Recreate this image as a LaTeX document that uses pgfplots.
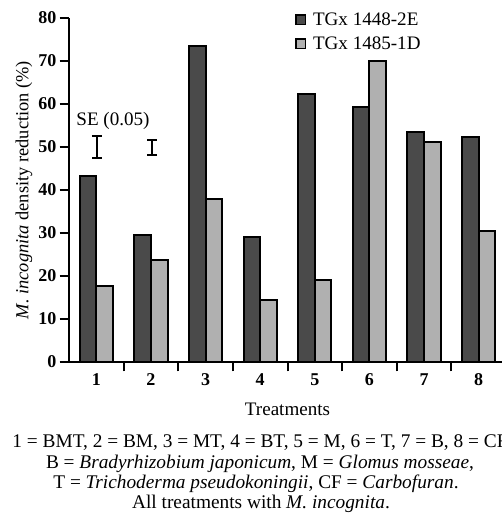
\documentclass[border=0pt]{standalone}
\usepackage{fontspec}
\setmainfont{Liberation Serif}
\usepackage{pgfplots}
\pgfplotsset{compat=1.18}
\definecolor{darkbar}{HTML}{4A4A4A}
\definecolor{lightbar}{HTML}{B0B0B0}
\begin{document}
\begin{tikzpicture}
\begin{axis}[
  at={(51.75pt,-271.5pt)}, anchor=south west,
  scale only axis, width=327.75pt, height=258pt,
  xmin=0.5, xmax=8.5, ymin=0, ymax=80,
  axis x line=bottom, axis y line=left,
  axis line style={-, line width=1.5pt},
  ytick={0,10,...,80},
  xtick={1.5,2.5,...,7.5}, xticklabels={,,,,,,},
  extra x ticks={1,...,8},
  extra x tick style={major tick length=0pt, xticklabel style={yshift=-5pt}},
  tick align=outside, major tick length=7pt,
  tick style={line width=1.5pt, black},
  /pgf/number format/assume math mode=true,
  tick label style={font=\fontsize{13.5}{13.5}\selectfont\bfseries},
  yticklabel style={xshift=1pt},
  ylabel={\textit{M. incognita} density reduction (\%)},
  ylabel style={font=\fontsize{13.8}{13.8}\selectfont, at={(axis description cs:-0.103,0.5)}, anchor=center},
  xlabel={Treatments},
  xlabel style={font=\fontsize{14.3}{14.3}\selectfont, at={(axis description cs:0.5,-0.137)}, anchor=center},
  legend style={at={(0.517,1.025)}, anchor=north west, draw=none, fill=none,
    font=\fontsize{14.3}{16}\selectfont, row sep=3pt, inner sep=0pt,
    /tikz/every odd column/.append style={column sep=3pt}},
  legend cell align=left,
  clip=false,
]
\addplot[ybar, bar width=12.5pt, bar shift=-6.25pt, fill=darkbar, draw=black, line width=1.5pt,
  legend image code/.code={\draw[fill=darkbar, draw=black, line width=1.2pt] (0pt,-3.6pt) rectangle (7.2pt,3.6pt);}]
  coordinates {(1,43.2) (2,29.6) (3,73.5) (4,29.0) (5,62.3) (6,59.4) (7,53.6) (8,52.4)};
\addlegendentry{TGx 1448-2E}
\addplot[ybar, bar width=12.5pt, bar shift=6.25pt, fill=lightbar, draw=black, line width=1.5pt,
  legend image code/.code={\draw[fill=lightbar, draw=black, line width=1.2pt] (0pt,-3.6pt) rectangle (7.2pt,3.6pt);}]
  coordinates {(1,17.7) (2,23.7) (3,37.8) (4,14.5) (5,19.1) (6,70.1) (7,51.2) (8,30.5)};
\addlegendentry{TGx 1485-1D}
\addplot[forget plot, sharp plot, draw=none, mark=none,
  error bars/.cd, y dir=both, y explicit,
  error bar style={line width=1.5pt, black},
  error mark options={rotate=90, mark size=3.75pt, line width=1.5pt, black}]
  coordinates {(1.01,50) +- (0,2.6) (2.02,49.9) +- (0,1.75)};
\node[font=\fontsize{14.3}{14.3}\selectfont] at (axis cs:1.306,56) {SE (0.05)};
\end{axis}
\begin{scope}[x=0.75pt, y=-0.75pt, font=\fontsize{14.5}{14.5}\selectfont]
\node[anchor=base] at (260,447) {1 = BMT, 2 = BM, 3 = MT, 4 = BT, 5 = M, 6 = T, 7 = B, 8 = CF};
\node[anchor=base] at (260,468) {B = \textit{Bradyrhizobium japonicum}, M = \textit{Glomus mosseae},};
\node[anchor=base] at (256,488) {T = \textit{Trichoderma pseudokoningii}, CF = \textit{Carbofuran}.};
\node[anchor=base] at (261,508) {All treatments with \textit{M. incognita}.};
\end{scope}
\pgfresetboundingbox
\path[use as bounding box] (0,0) rectangle (376.5pt,-385.5pt);
\end{tikzpicture}
\end{document}
